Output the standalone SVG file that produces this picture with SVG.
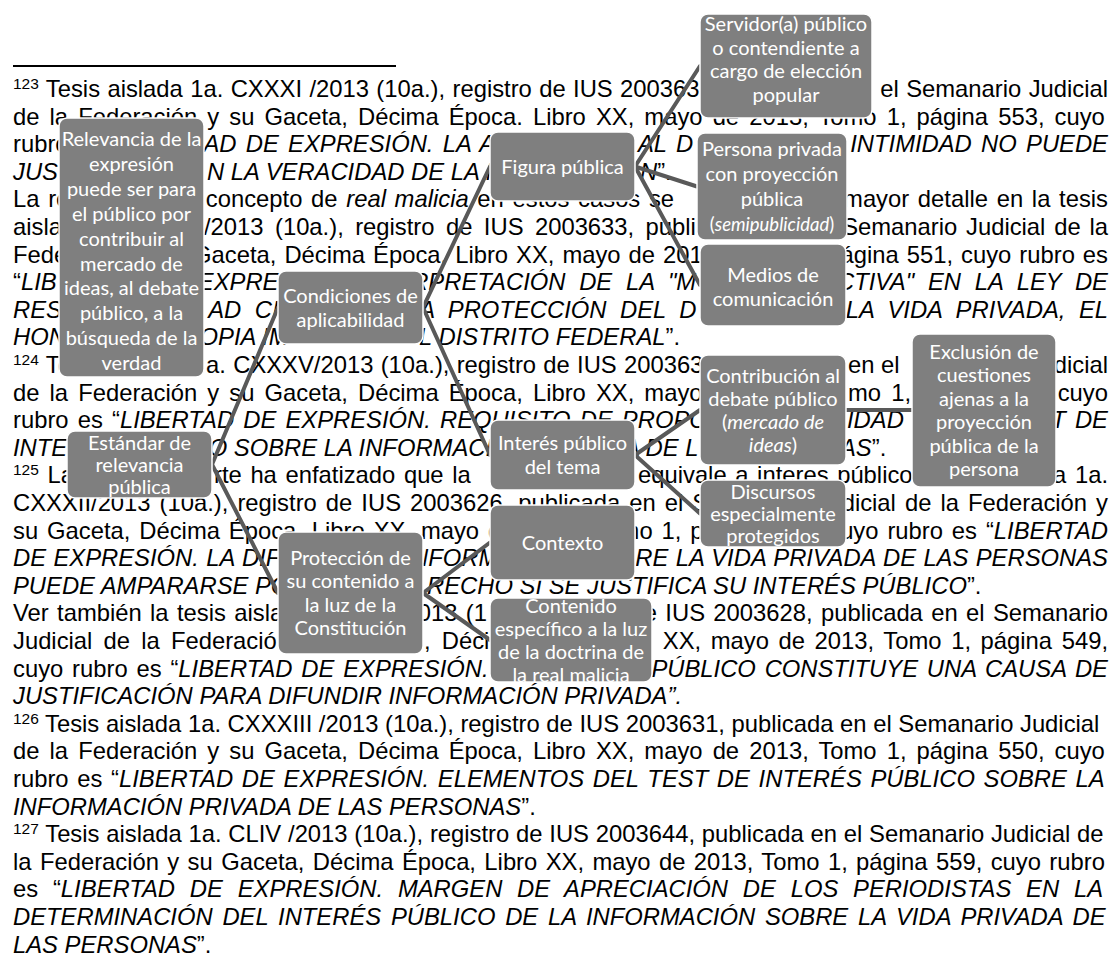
<svg xmlns="http://www.w3.org/2000/svg" width="1120" height="959" viewBox="0 0 1120 959">
<style>
.t text{font-family:"Liberation Sans",Arial,sans-serif;font-size:23.8px;fill:#000}
.i{font-style:italic}
.e{text-anchor:end}
.sup{font-size:15.5px}
.c line{stroke:#595959;stroke-width:4;stroke-linecap:round}
.n rect{fill:#7f7f7f;stroke:#fff;stroke-width:1.5}
.n text{font-family:Lato,"Open Sans",sans-serif;font-size:20px;fill:#fff;text-anchor:middle}
</style>
<rect width="1120" height="959" fill="#fff"/>
<line x1="13" y1="66" x2="396" y2="66" stroke="#000" stroke-width="2"/>
<g id="document-text" class="t">
<text x="13" y="97" style="word-spacing:.76px"><tspan class="sup" dy="-8">123</tspan><tspan dy="8"> Tesis aislada 1a. CXXXI /2013 (10a.), registro de IUS 200363</tspan></text>
<text class="e" x="1108" y="97" style="word-spacing:.76px">el Semanario Judicial</text>
<text x="13" y="124.6" style="word-spacing:3.48px">de la Federación y su Gaceta, Décima Época. Libro XX, mayo de 2013, Tomo 1, página 553, cuyo</text>
<text x="13" y="152.2">rubro</text>
<text class="i" x="203.4" y="152.2" style="word-spacing:2.64px">AD DE EXPRESIÓN. LA A</text>
<text class="i" x="638" y="152.2" style="word-spacing:2.64px">AL D</text>
<text class="i e" x="1108" y="152.2" style="word-spacing:2.64px">INTIMIDAD NO PUEDE</text>
<text class="i" x="13" y="179.8">JUST</text>
<text class="i" x="207" y="179.8">N LA VERACIDAD DE LA I</text>
<text x="640" y="179.8"><tspan class="i">N</tspan>”.</text>
<text x="13" y="207.4" style="word-spacing:2.08px">La re</text>
<text x="205.8" y="207.4" style="word-spacing:2.08px">concepto de <tspan class="i">real malicia</tspan> en estos casos se</text>
<text class="e" x="1108" y="207.4" style="word-spacing:2.08px">mayor detalle en la tesis</text>
<text x="13" y="235">aisla</text>
<text x="204" y="235" style="word-spacing:4.81px">/2013 (10a.), registro de IUS 2003633, publi</text>
<text class="e" x="1108" y="235" style="word-spacing:2.2px">Semanario Judicial de la</text>
<text x="13" y="262.6">Fede</text>
<text x="193.1" y="262.6" style="word-spacing:1.38px">Gaceta, Décima Época, Libro XX, mayo de 201</text>
<text class="e" x="1108" y="262.6" style="word-spacing:1.38px">página 551, cuyo rubro es</text>
<text x="13" y="290.2">“<tspan class="i">LIB</tspan></text>
<text class="i" x="197.8" y="290.2">EXPRE</text>
<text class="i" x="411.2" y="290.2" style="word-spacing:7.12px">RPRETACIÓN DE LA "M</text>
<text class="i e" x="1108" y="290.2" style="word-spacing:7.12px">CTIVA" EN LA LEY DE</text>
<text class="i" x="13" y="317.8">RES</text>
<text class="i" x="208.2" y="317.8" style="word-spacing:6.9px">AD CI</text>
<text class="i" x="419.3" y="317.8" style="word-spacing:6.9px">A PROTECCIÓN DEL D</text>
<text class="i e" x="1108" y="317.8" style="word-spacing:6.9px">LA VIDA PRIVADA, EL</text>
<text class="i" x="13" y="345.4">HON</text>
<text class="i" x="199.5" y="345.4">OPIA IM</text>
<text x="419.1" y="345.4"><tspan class="i">L DISTRITO FEDERAL</tspan>”.</text>
<text x="13" y="373" style="word-spacing:.64px"><tspan class="sup" dy="-8">124</tspan><tspan dy="8"> Te</tspan></text>
<text x="206.1" y="373" style="word-spacing:.64px">a. CXXXV/2013 (10a.), registro de IUS 200363</text>
<text x="848" y="373">en el</text>
<text class="e" x="1108" y="373">dicial</text>
<text x="13" y="400.6" style="word-spacing:3.48px">de la Federación y su Gaceta, Décima Época, Libro XX, mayo</text>
<text x="848" y="400.6" style="word-spacing:3.48px">mo 1,</text>
<text class="e" x="1108" y="400.6">cuyo</text>
<text x="13" y="428.2" style="word-spacing:2.53px">rubro es “<tspan class="i">LIBERTAD DE EXPRESIÓN. REQUISITO DE PROPO</tspan></text>
<text class="i" x="847" y="428.2">IDAD</text>
<text class="i e" x="1108" y="428.2" style="word-spacing:2.53px">T DE</text>
<text class="i" x="13" y="455.8">INTE</text>
<text class="i" x="208.7" y="455.8">O SOBRE LA INFORMACI</text>
<text class="i" x="623.9" y="455.8">A DE L</text>
<text x="840" y="455.8"><tspan class="i">AS</tspan>”.</text>
<text x="13" y="483.4" style="word-spacing:2px"><tspan class="sup" dy="-8">125</tspan><tspan dy="8"> La</tspan></text>
<text x="214" y="483.4" style="word-spacing:2px">rte ha enfatizado que la</text>
<text x="638" y="483.4" style="word-spacing:2px">equivale a interes público</text>
<text class="e" x="1108" y="483.4" style="word-spacing:2px">a 1a.</text>
<text x="13" y="511" style="word-spacing:2.43px">CXXXII/2013 (10a.), registro de IUS 2003626, publicada en el S</text>
<text class="e" x="1108" y="511" style="word-spacing:2.43px">dicial de la Federación y</text>
<text x="13" y="538.6" style="word-spacing:2.29px">su Gaceta, Décima Época, Libro XX, mayo d</text>
<text x="619.6" y="538.6" style="word-spacing:2.29px">mo 1, p</text>
<text class="e" x="1108" y="538.6" style="word-spacing:2.29px">uyo rubro es “<tspan class="i">LIBERTAD</tspan></text>
<text class="i" x="13" y="566.2" style="word-spacing:.77px">DE EXPRESIÓN. LA DIF</text>
<text class="i" x="411" y="566.2">NFORM</text>
<text class="i e" x="1108" y="566.2" style="word-spacing:.77px">RE LA VIDA PRIVADA DE LAS PERSONAS</text>
<text class="i" x="13" y="593.8">PUEDE AMPARARSE PO</text>
<text x="427" y="593.8"><tspan class="i">RECHO SI SE JUSTIFICA SU INTERÉS PÚBLICO</tspan>”.</text>
<text x="13" y="621.4" style="word-spacing:1.74px">Ver también la tesis aisla</text>
<text x="417.7" y="621.4" style="word-spacing:1.74px">013 (1</text>
<text class="e" x="1108" y="621.4" style="word-spacing:1.74px">e IUS 2003628, publicada en el Semanario</text>
<text x="13" y="649" style="word-spacing:4.58px">Judicial de la Federación</text>
<text x="424" y="649" style="word-spacing:4.58px">, Décima</text>
<text class="e" x="1108" y="649" style="word-spacing:3px">XX, mayo de 2013, Tomo 1, página 549,</text>
<text x="13" y="676.6" style="word-spacing:2.2px">cuyo rubro es “<tspan class="i">LIBERTAD DE EXPRESIÓN.</tspan></text>
<text class="i e" x="1108" y="676.6" style="word-spacing:2.2px">PÚBLICO CONSTITUYE UNA CAUSA DE</text>
<text class="i" x="13" y="704.2">JUSTIFICACIÓN PARA DIFUNDIR INFORMACIÓN PRIVADA”.</text>
<text x="13" y="731.8"><tspan class="sup" dy="-8">126</tspan><tspan dy="8"> Tesis aislada 1a. CXXXIII /2013 (10a.), registro de IUS 2003631, publicada en el Semanario Judicial</tspan></text>
<text x="13" y="759.4" style="word-spacing:3.48px">de la Federación y su Gaceta, Décima Época, Libro XX, mayo de 2013, Tomo 1, página 550, cuyo</text>
<text x="13" y="787" style="word-spacing:2.08px">rubro es “<tspan class="i">LIBERTAD DE EXPRESIÓN. ELEMENTOS DEL TEST DE INTERÉS PÚBLICO SOBRE LA</tspan></text>
<text x="13" y="814.6"><tspan class="i">INFORMACIÓN PRIVADA DE LAS PERSONAS</tspan>”.</text>
<text x="13" y="842.2" style="word-spacing:.18px"><tspan class="sup" dy="-8">127</tspan><tspan dy="8"> Tesis aislada 1a. CLIV /2013 (10a.), registro de IUS 2003644, publicada en el Semanario Judicial de</tspan></text>
<text x="13" y="869.8" style="word-spacing:1.77px">la Federación y su Gaceta, Décima Época, Libro XX, mayo de 2013, Tomo 1, página 559, cuyo rubro</text>
<text x="13" y="897.4" style="word-spacing:8.17px">es “<tspan class="i">LIBERTAD DE EXPRESIÓN. MARGEN DE APRECIACIÓN DE LOS PERIODISTAS EN LA</tspan></text>
<text class="i" x="13" y="925" style="word-spacing:3.15px">DETERMINACIÓN DEL INTERÉS PÚBLICO DE LA INFORMACIÓN SOBRE LA VIDA PRIVADA DE</text>
<text x="13" y="952.6"><tspan class="i">LAS PERSONAS</tspan>”.</text>
</g>
<g id="connectors" class="c">
<line x1="212" y1="464.5" x2="278" y2="307.5"/>
<line x1="212" y1="464.5" x2="278" y2="593"/>
<line x1="423" y1="307.5" x2="490" y2="166.5"/>
<line x1="423" y1="307.5" x2="490" y2="455"/>
<line x1="635" y1="166.5" x2="700" y2="66"/>
<line x1="635" y1="166.5" x2="697" y2="186.5"/>
<line x1="635" y1="166.5" x2="700" y2="285"/>
<line x1="635" y1="455" x2="700" y2="410"/>
<line x1="635" y1="455" x2="700" y2="513.5"/>
<line x1="423" y1="593" x2="490" y2="542.5"/>
<line x1="423" y1="593" x2="490" y2="640"/>
<line x1="846" y1="410" x2="912" y2="410"/>
</g>
<g id="n-relevancia" class="n"><rect x="59" y="118" width="145" height="259" rx="8"/>
<text x="131.5" y="146">Relevancia de la</text><text x="131.5" y="170.9">expresión</text><text x="131.5" y="195.8">puede ser para</text><text x="131.5" y="220.7">el público por</text><text x="131.5" y="245.6">contribuir al</text><text x="131.5" y="270.5">mercado de</text><text x="131.5" y="295.4">ideas, al debate</text><text x="131.5" y="320.3">público, a la</text><text x="131.5" y="345.2">búsqueda de la</text><text x="131.5" y="370.1">verdad</text></g>
<g id="n-servidor" class="n"><rect x="700" y="14" width="172" height="104" rx="8"/>
<text x="786" y="31">Servidor(a) público</text><text x="786" y="54.5">o contendiente a</text><text x="786" y="78">cargo de elección</text><text x="786" y="101.5">popular</text></g>
<g id="n-figura" class="n"><rect x="490" y="132" width="145" height="69" rx="8"/>
<text x="562.5" y="173.5">Figura pública</text></g>
<g id="n-persona" class="n"><rect x="697" y="133" width="150" height="107" rx="8"/>
<text x="772" y="156">Persona privada</text><text x="772" y="181">con proyección</text><text x="772" y="206">pública</text><text x="772" y="231" style="font-size:18.5px">(<tspan class="i">semipublicidad</tspan>)</text></g>
<g id="n-medios" class="n"><rect x="700" y="244" width="146" height="82" rx="8"/>
<text x="773" y="282">Medios de</text><text x="773" y="306">comunicación</text></g>
<g id="n-condiciones" class="n"><rect x="278" y="271" width="145" height="73" rx="8"/>
<text x="350.5" y="302.5">Condiciones de</text><text x="350.5" y="326.5">aplicabilidad</text></g>
<g id="n-estandar" class="n"><rect x="67" y="431" width="145" height="67" rx="8"/>
<text x="139.5" y="449.5">Estándar de</text><text x="139.5" y="471.5">relevancia</text><text x="139.5" y="493.5">pública</text></g>
<g id="n-interes" class="n"><rect x="490" y="420" width="145" height="70" rx="8"/>
<text x="562.5" y="450">Interés público</text><text x="562.5" y="474">del tema</text></g>
<g id="n-contexto" class="n"><rect x="490" y="505" width="145" height="75" rx="8"/>
<text x="562.5" y="549.5">Contexto</text></g>
<g id="n-proteccion" class="n"><rect x="278" y="532" width="145" height="122" rx="8"/>
<text x="350.5" y="564.75">Protección de</text><text x="350.5" y="588.25">su contenido a</text><text x="350.5" y="611.75">la luz de la</text><text x="350.5" y="635.25">Constitución</text></g>
<g id="n-contenido" class="n"><rect x="490" y="598" width="162" height="84" rx="8"/>
<text x="571" y="612.5">Contenido</text><text x="571" y="635.5">específico a la luz</text><text x="571" y="658.5">de la doctrina de</text><text x="571" y="681.5">la real malicia</text></g>
<g id="n-contribucion" class="n"><rect x="700" y="355" width="146" height="110" rx="8"/>
<text x="773" y="382.5">Contribución al</text><text x="773" y="405.5">debate público</text><text x="773" y="428.5">(<tspan class="i">mercado de</tspan></text><text x="773" y="451.5"><tspan class="i">ideas</tspan>)</text></g>
<g id="n-exclusion" class="n"><rect x="912" y="334" width="144" height="153" rx="8"/>
<text x="984" y="358.75">Exclusión de</text><text x="984" y="382.25">cuestiones</text><text x="984" y="405.75">ajenas a la</text><text x="984" y="429.25">proyección</text><text x="984" y="452.75">pública de la</text><text x="984" y="476.25">persona</text></g>
<g id="n-discursos" class="n"><rect x="700" y="480" width="146" height="67" rx="8"/>
<text x="773" y="498.5">Discursos</text><text x="773" y="520.5">especialmente</text><text x="773" y="542.5">protegidos</text></g>
</svg>
